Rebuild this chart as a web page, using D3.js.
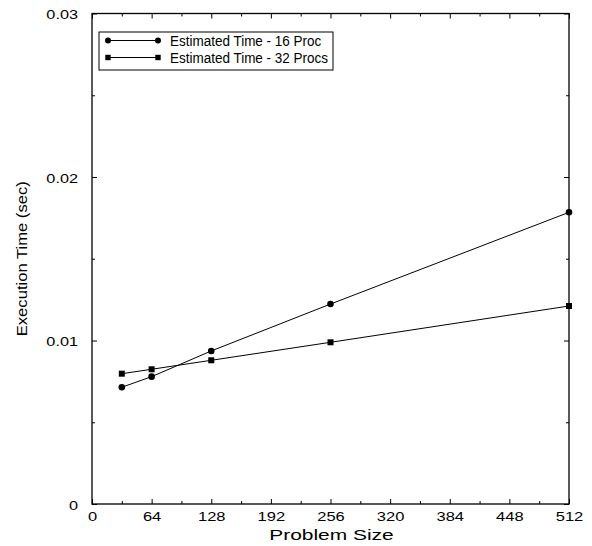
<!DOCTYPE html>
<html><head><meta charset="utf-8">
<script src="https://cdn.jsdelivr.net/npm/d3@7"></script>
<style>body{margin:0;background:#fff}svg{display:block}text{font-family:"Liberation Sans",Arial,sans-serif}</style>
</head><body>
<script>
const problemSizes = [32, 64, 128, 256, 512];
const time16 = [0.00714, 0.00779, 0.00936, 0.01223, 0.01784];
const time32 = [0.00797, 0.00824, 0.00879, 0.00989, 0.01211];
const seriesNames = ["Estimated Time - 16 Proc", "Estimated Time - 32 Procs"];
const xTicks = [0, 64, 128, 192, 256, 320, 384, 448, 512];
const xMinor = [32, 96, 160, 224, 288, 352, 416, 480];
const yTicks = [0, 0.01, 0.02, 0.03];
const yMinor = [0.005, 0.015, 0.025];

const W = 592, H = 546;
const L = 92, R = 569, T = 13.5, B = 504;
const svg = d3.select("body").append("svg").attr("width", W).attr("height", H);
const x = d3.scaleLinear().domain([0, 512]).range([L, R]);
const y = d3.scaleLinear().domain([0, 0.03]).range([B, T]);

function stretch(sel, f) {
  sel.each(function(){
    const w = this.getComputedTextLength();
    d3.select(this).attr("textLength", w * f).attr("lengthAdjust", "spacingAndGlyphs");
  });
}

svg.append("rect").attr("x", L).attr("y", T).attr("width", R - L).attr("height", B - T)
  .attr("fill", "none").attr("stroke", "#000").attr("stroke-width", 1.3);

const fmtY = d => d === 0 ? "0" : d3.format(".2f")(d);
const gB = svg.append("g").attr("transform", `translate(0,${B})`)
  .call(d3.axisBottom(x).tickValues(xTicks).tickSize(-5).tickPadding(8).tickFormat(d3.format("d")));
const gBm = svg.append("g").attr("transform", `translate(0,${B})`)
  .call(d3.axisBottom(x).tickValues(xMinor).tickSize(-3).tickFormat(""));
const gT = svg.append("g").attr("transform", `translate(0,${T})`)
  .call(d3.axisTop(x).tickValues(xTicks).tickSize(-5).tickFormat(""));
const gTm = svg.append("g").attr("transform", `translate(0,${T})`)
  .call(d3.axisTop(x).tickValues(xMinor).tickSize(-3).tickFormat(""));
const gL = svg.append("g").attr("transform", `translate(${L},0)`)
  .call(d3.axisLeft(y).tickValues(yTicks).tickSize(-5).tickPadding(14).tickFormat(fmtY));
const gLm = svg.append("g").attr("transform", `translate(${L},0)`)
  .call(d3.axisLeft(y).tickValues(yMinor).tickSize(-3).tickFormat(""));
const gR = svg.append("g").attr("transform", `translate(${R},0)`)
  .call(d3.axisRight(y).tickValues(yTicks).tickSize(-5).tickFormat(""));
const gRm = svg.append("g").attr("transform", `translate(${R},0)`)
  .call(d3.axisRight(y).tickValues(yMinor).tickSize(-3).tickFormat(""));
[gB, gBm, gT, gTm, gL, gLm, gR, gRm].forEach(g => {
  g.select(".domain").remove();
  g.selectAll("line").attr("stroke", "#000");
  g.selectAll("text").attr("font-size", 13).attr("fill", "#000")
    .attr("font-family", "'Liberation Sans',Arial,sans-serif");
});
gL.selectAll("text").attr("dy", "0.4em");
stretch(gB.selectAll("text"), 1.27);
stretch(gL.selectAll("text"), 1.25);

const xt = svg.append("text").attr("x", 331.5).attr("y", 540).attr("text-anchor", "middle")
  .attr("font-size", 15.5).text("Problem Size");
xt.attr("textLength", 124.5).attr("lengthAdjust", "spacingAndGlyphs");
const yt = svg.append("text").attr("transform", `translate(27,${(T + B) / 2}) rotate(-90)`)
  .attr("text-anchor", "middle").attr("font-size", 15.5).text("Execution Time (sec)");
yt.attr("textLength", 155).attr("lengthAdjust", "spacingAndGlyphs");

const line = d3.line().x(d => x(d[0])).y(d => y(d[1]));
const d16 = problemSizes.map((p, i) => [p, time16[i]]);
const d32 = problemSizes.map((p, i) => [p, time32[i]]);
svg.append("path").attr("d", line(d16)).attr("fill", "none").attr("stroke", "#000").attr("stroke-width", 1);
svg.append("path").attr("d", line(d32)).attr("fill", "none").attr("stroke", "#000").attr("stroke-width", 1);
svg.selectAll("circle.p16").data(d16).join("circle").attr("class", "p16")
  .attr("cx", d => x(d[0])).attr("cy", d => y(d[1])).attr("r", 3.3).attr("fill", "#000");
svg.selectAll("rect.p32").data(d32).join("rect").attr("class", "p32")
  .attr("x", d => x(d[0]) - 3).attr("y", d => y(d[1]) - 3).attr("width", 6).attr("height", 6).attr("fill", "#000");

// legend
const lg = svg.append("g");
const box = lg.append("rect").attr("x", 99).attr("y", 32).attr("height", 38)
  .attr("fill", "#fff").attr("stroke", "#000").attr("stroke-width", 1);
const rows = [40.5, 57.5];
const texts = [];
rows.forEach((ry, i) => {
  lg.append("line").attr("x1", 108).attr("x2", 158).attr("y1", ry).attr("y2", ry).attr("stroke", "#000");
  if (i === 0) {
    [108, 158].forEach(cx => lg.append("circle").attr("cx", cx).attr("cy", ry).attr("r", 3).attr("fill", "#000"));
  } else {
    [108, 158].forEach(cx => lg.append("rect").attr("x", cx - 2.7).attr("y", ry - 2.7).attr("width", 5.4).attr("height", 5.4).attr("fill", "#000"));
  }
  texts.push(lg.append("text").attr("x", 170).attr("y", ry).attr("dy", "0.37em").attr("font-size", 14).text(seriesNames[i]));
});
const w2 = texts[1].node().getComputedTextLength();
const f = 158 / w2;
texts.forEach(t => stretch(t, f));
box.attr("width", 333 - 99);
</script>
</body></html>
